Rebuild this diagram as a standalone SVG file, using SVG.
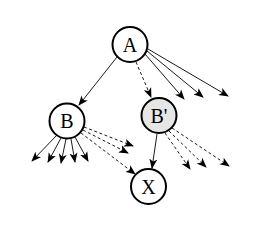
<svg xmlns="http://www.w3.org/2000/svg" width="274" height="232" viewBox="0 0 274 232">
<style>
.n{fill:#fff;stroke:#000;stroke-width:2}
.g{fill:#e6e6e6}
.t{font-family:"Liberation Serif",serif;font-size:20px;text-anchor:middle;dominant-baseline:central}
.e{stroke:#000;stroke-width:0.9;fill:none;marker-end:url(#ah)}
.d{stroke-dasharray:3,2.5}
</style>
<defs>
<marker id="ah" markerWidth="11" markerHeight="9" refX="9" refY="4.5" orient="auto" markerUnits="userSpaceOnUse">
<path d="M0,0.5 L10,4.5 L0,8.5 L2.5,4.5 Z" fill="#000"/>
</marker>
</defs>
<rect width="274" height="232" fill="#fff"/>
<g id="edges">
<line class="e" x1="117" y1="57" x2="79" y2="105"/>
<line class="e d" x1="136" y1="62" x2="151" y2="97"/>
<line class="e" x1="145" y1="54" x2="184" y2="99"/>
<line class="e" x1="147" y1="51" x2="203" y2="97"/>
<line class="e" x1="148" y1="49" x2="228" y2="96"/>
<line class="e" x1="57" y1="135" x2="32" y2="161"/>
<line class="e" x1="61" y1="138" x2="48" y2="162"/>
<line class="e" x1="66" y1="139" x2="61" y2="163"/>
<line class="e" x1="71" y1="139" x2="75" y2="162"/>
<line class="e" x1="75" y1="137" x2="88" y2="161"/>
<line class="e d" x1="84" y1="127" x2="133" y2="146"/>
<line class="e d" x1="83" y1="130" x2="128" y2="153"/>
<line class="e d" x1="81" y1="133" x2="135" y2="174"/>
<line class="e" x1="157" y1="134" x2="152" y2="168"/>
<line class="e d" x1="165" y1="133" x2="190" y2="169"/>
<line class="e d" x1="169" y1="131" x2="206" y2="167"/>
<line class="e d" x1="172" y1="128" x2="229" y2="166"/>
</g>
<g id="A"><circle class="n" cx="130" cy="44.5" r="17.5"/><text class="t" x="130" y="44.5">A</text></g>
<g id="B"><circle class="n" cx="67" cy="121" r="17.5"/><text class="t" x="67" y="121">B</text></g>
<g id="Bp"><circle class="n g" cx="159" cy="115.5" r="17.5"/><text class="t" x="159" y="115.5">B'</text></g>
<g id="X"><circle class="n" cx="148.5" cy="186.5" r="17.5"/><text class="t" x="148.5" y="186.5">X</text></g>
</svg>
